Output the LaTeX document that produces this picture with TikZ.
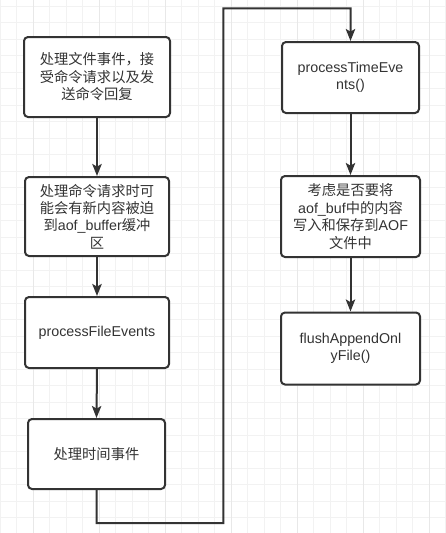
\documentclass[tikz,border=0pt]{standalone}
\usepackage{fontspec}
\setmainfont{Liberation Sans}
\newfontfamily\cjk{Noto Sans CJK SC}
\usetikzlibrary{arrows.meta}
\definecolor{ink}{HTML}{333333}
\definecolor{gridminor}{HTML}{F2F2F2}
\definecolor{gridmajor}{HTML}{E8E8E8}
\tikzset{
  box/.style={draw=ink, line width=1.5pt, rounded corners=3pt, fill=white,
    text=ink, align=center, inner sep=0pt,
    font=\fontsize{10.7pt}{13.1pt}\selectfont},
  flow/.style={draw=ink, line width=1.5pt,
    -{Stealth[length=9pt,width=7pt,inset=2pt]}},
}
\begin{document}
\begin{tikzpicture}[x=0.75pt,y=-0.75pt]
\path[use as bounding box, fill=white] (0,0) rectangle (446,533);
\foreach \i in {0,...,27} {
  \draw[gridminor, line width=0.75pt] (16.5*\i,0) -- (16.5*\i,533);
}
\foreach \j in {0,...,32} {
  \draw[gridminor, line width=0.75pt] (0,6.3+16.5*\j) -- (446,6.3+16.5*\j);
}
\foreach \i in {2,6,...,26} {
  \draw[gridmajor, line width=0.75pt] (16.5*\i,0) -- (16.5*\i,533);
}
\node[box, minimum width=146*0.75pt, minimum height=80*0.75pt] (b1) at (97,77)
  {{\cjk 处理文件事件，接}\\{\cjk 受命令请求以及发}\\{\cjk 送命令回复}};
\node[box, minimum width=144*0.75pt, minimum height=79*0.75pt] (b2) at (97,216.5)
  {{\cjk 处理命令请求时可}\\{\cjk 能会有新内容被迫}\\{\cjk 到}aof\_buffer{\cjk 缓冲}\\{\cjk 区}};
\node[box, minimum width=144*0.75pt, minimum height=71*0.75pt] (b3) at (97,332.5)
  {processFileEvents};
\node[box, minimum width=137*0.75pt, minimum height=70*0.75pt] (b4) at (96.5,454)
  {{\cjk 处理时间事件}};
\node[box, minimum width=137*0.75pt, minimum height=71*0.75pt] (b5) at (350.5,77.5)
  {processTimeEve\\nts()};
\node[box, minimum width=139*0.75pt, minimum height=81*0.75pt] (b6) at (350.5,216.5)
  {{\cjk 考虑是否要将}\\aof\_buf{\cjk 中的内容}\\{\cjk 写入和保存到}AOF\\{\cjk 文件中}};
\node[box, minimum width=139*0.75pt, minimum height=72*0.75pt] (b7) at (350.5,348.5)
  {flushAppendOnl\\yFile()};
\coordinate (c1) at (96.7,523);
\coordinate (c2) at (223.3,523);
\coordinate (c3) at (223.3,8.3);
\coordinate (c4) at (350.5,8.3);
\draw[flow] (b1.south) -- (b2.north);
\draw[flow] (b2.south) -- (b3.north);
\draw[flow] (b3.south) -- (b4.north);
\draw[flow] (b4.south) -- (c1) -- (c2) -- (c3) -- (c4) -- (b5.north);
\draw[flow] (b5.south) -- (b6.north);
\draw[flow] (b6.south) -- (b7.north);
\end{tikzpicture}
\end{document}
